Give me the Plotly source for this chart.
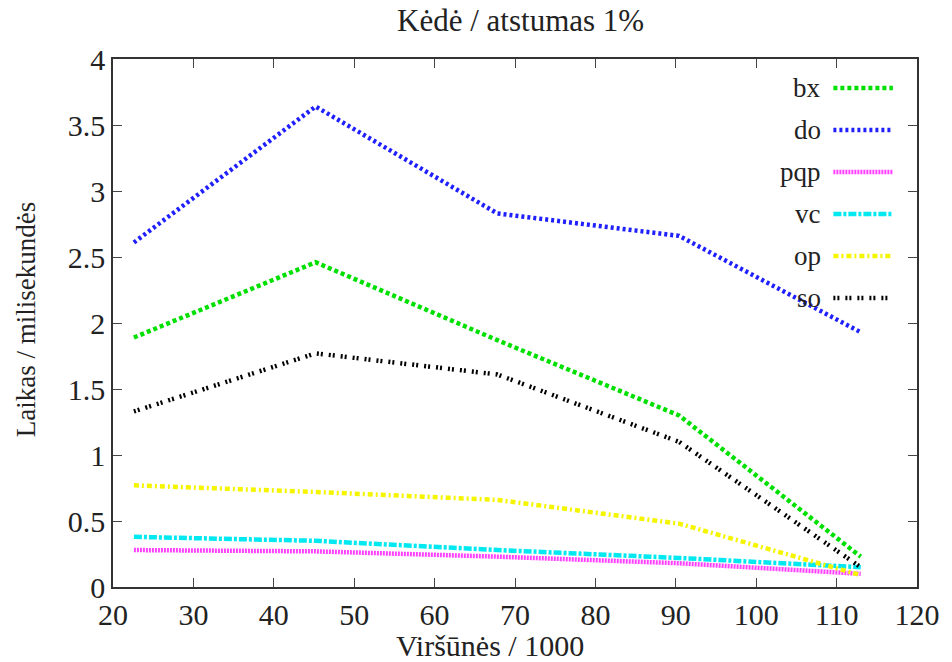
import plotly.graph_objects as go

x_vals = [22.6, 45.2, 67.8, 90.4, 113.0]
series_names = ["bx", "do", "pqp", "vc", "op", "so"]
bx = [1.89, 2.46, 1.87, 1.30, 0.23]
do = [2.61, 3.64, 2.83, 2.66, 1.93]
pqp = [0.28, 0.27, 0.23, 0.18, 0.10]
vc = [0.38, 0.35, 0.28, 0.22, 0.15]
op = [0.77, 0.72, 0.66, 0.48, 0.09]
so = [1.33, 1.77, 1.61, 1.10, 0.15]
x_ticks = [20, 30, 40, 50, 60, 70, 80, 90, 100, 110, 120]
y_ticks = [0, 0.5, 1, 1.5, 2, 2.5, 3, 3.5, 4]
y_tick_text = ["0", "0.5", "1", "1.5", "2", "2.5", "3", "3.5", "4"]

data = {"bx": bx, "do": do, "pqp": pqp, "vc": vc, "op": op, "so": so}
colors = {"bx": "#00e000", "do": "#2020ff", "pqp": "#ff40ff", "vc": "#00e8f0",
          "op": "#f5f500", "so": "#000000"}
dashes = {"bx": "4px,3px", "do": "3px,3px", "pqp": "2px,1px", "vc": "8px,2px,3px,2px",
          "op": "5px,3px,2px,3px", "so": "2px,2px,2px,6px"}

fig = go.Figure()
for name in series_names:
    fig.add_trace(go.Scatter(x=x_vals, y=data[name], mode="lines", name=name,
                             line=dict(color=colors[name], width=4.5, dash=dashes[name]),
                             showlegend=False))

# custom legend (gnuplot style: label then sample)
for i, name in enumerate(series_names):
    yp = 0.945 - i * 0.0795
    fig.add_annotation(x=0.883, y=yp, xref="paper", yref="paper", text=name,
                       showarrow=False, xanchor="right", yanchor="middle",
                       font=dict(family="Liberation Serif", size=27, color="#222"))
    fig.add_shape(type="line", xref="paper", yref="paper", x0=0.896, x1=0.970,
                  y0=yp, y1=yp, line=dict(color=colors[name], width=4.5, dash=dashes[name]))

# axis titles placed like the gnuplot original
fig.add_annotation(x=0.469, y=-0.11, xref="paper", yref="paper", text="Viršūnės / 1000",
                   showarrow=False, xanchor="center", yanchor="middle",
                   font=dict(family="Liberation Serif", size=30, color="#222"))
fig.add_annotation(x=-0.109, y=0.506, xref="paper", yref="paper",
                   text="Laikas / milisekundės", textangle=-90,
                   showarrow=False, xanchor="center", yanchor="middle",
                   font=dict(family="Liberation Serif", size=27, color="#222"))

fig.update_layout(
    width=952, height=662,
    margin=dict(l=113, r=35, t=59, b=75),
    plot_bgcolor="white", paper_bgcolor="white",
    font=dict(family="Liberation Serif", color="#222"),
    title=dict(text="Kėdė / atstumas 1%", x=0.507, xref="paper", xanchor="center",
               y=0.97, yanchor="middle", font=dict(size=31, family="Liberation Serif")),
)
fig.update_xaxes(range=[20, 120], tickvals=x_ticks, ticks="inside", ticklen=9,
                 showline=True, linecolor="#333", linewidth=1.5, mirror="ticks",
                 showgrid=False, zeroline=False,
                 tickfont=dict(size=30, family="Liberation Serif"))
fig.update_yaxes(range=[0, 4], tickvals=y_ticks, ticktext=y_tick_text, ticks="inside",
                 ticklen=9, showline=True, linecolor="#333", linewidth=1.5, mirror="ticks",
                 showgrid=False, zeroline=False,
                 tickfont=dict(size=30, family="Liberation Serif"))

fig.write_html("out.html")
